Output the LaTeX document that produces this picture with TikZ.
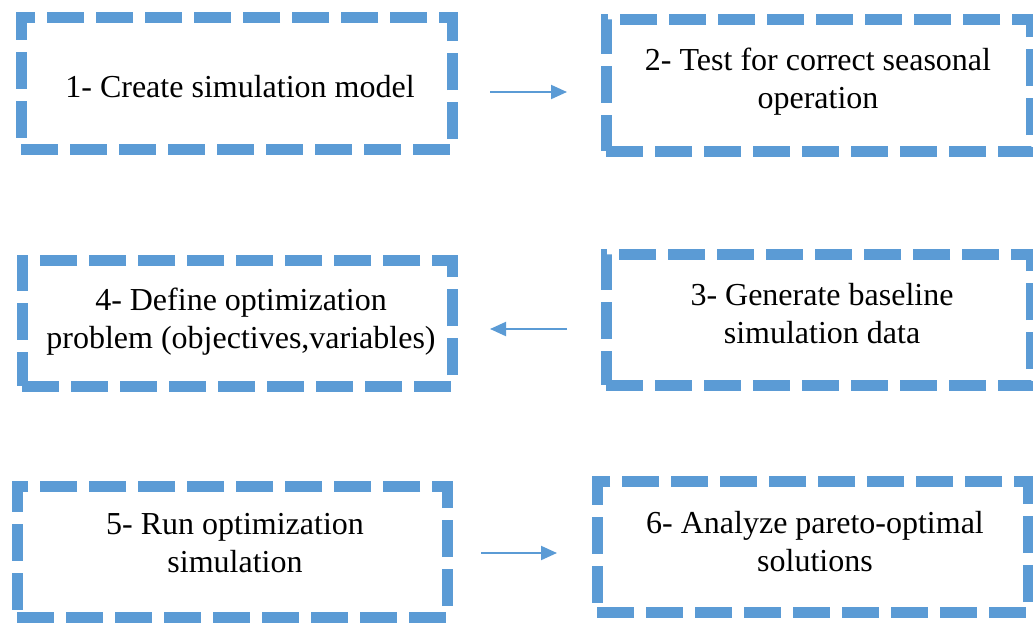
\documentclass[tikz,border=0pt]{standalone}
\usepackage{fontspec}
\setmainfont{Liberation Serif}
\usetikzlibrary{arrows.meta}
\definecolor{boxblue}{HTML}{5B9BD5}
\begin{document}
\begin{tikzpicture}[x=1pt,y=-1pt,
  stepbox/.style={draw=boxblue, line width=11pt, dash pattern=on 37pt off 12pt,
    inner sep=0pt, outer sep=0pt},
  txt/.style={anchor=north, align=center, inner sep=0pt, outer sep=0pt,
    font=\fontsize{32}{38}\selectfont, text=black},
  flow/.style={draw=boxblue, line width=2pt, -{Triangle[length=16pt,width=14pt]}}]
\useasboundingbox (0,0) rectangle (1033,640);
\node[stepbox, minimum width=431pt, minimum height=132pt] (b1) at (236.5,83) {};
\node[stepbox, minimum width=425pt, minimum height=132pt] (b2) at (818.5,85) {};
\node[stepbox, minimum width=425pt, minimum height=131pt] (b3) at (818.5,319.5) {};
\node[stepbox, minimum width=430pt, minimum height=126pt] (b4) at (237,323) {};
\node[stepbox, minimum width=430pt, minimum height=131pt] (b5) at (232,551.5) {};
\node[stepbox, minimum width=431pt, minimum height=131pt] (b6) at (812.5,546.5) {};
\node[txt] (t1) at (240,75) {1- Create simulation model};
\node[txt] (t2) at (818,48) {2- Test for correct seasonal\\operation};
\node[txt] (t3) at (822,283) {3- Generate baseline\\simulation data};
\node[txt] (t4) at (241,288) {4- Define optimization\\problem (objectives,variables)};
\node[txt] (t5) at (235,513) {5- Run optimization\\simulation};
\node[txt] (t6) at (815,511) {6- Analyze pareto-optimal\\solutions};
\draw[flow, shorten <=38pt, shorten >=39pt] ([yshift=-9pt]b1.east) -- ([yshift=-9pt]b1.east -| b2.west);
\draw[flow, shorten <=39pt, shorten >=38pt] ([yshift=-9.5pt]b3.west) -- ([yshift=-9.5pt]b3.west -| b4.east);
\draw[flow, shorten <=34pt, shorten >=40pt] ([yshift=-1.5pt]b5.east) -- ([yshift=-1.5pt]b5.east -| b6.west);
\end{tikzpicture}
\end{document}
